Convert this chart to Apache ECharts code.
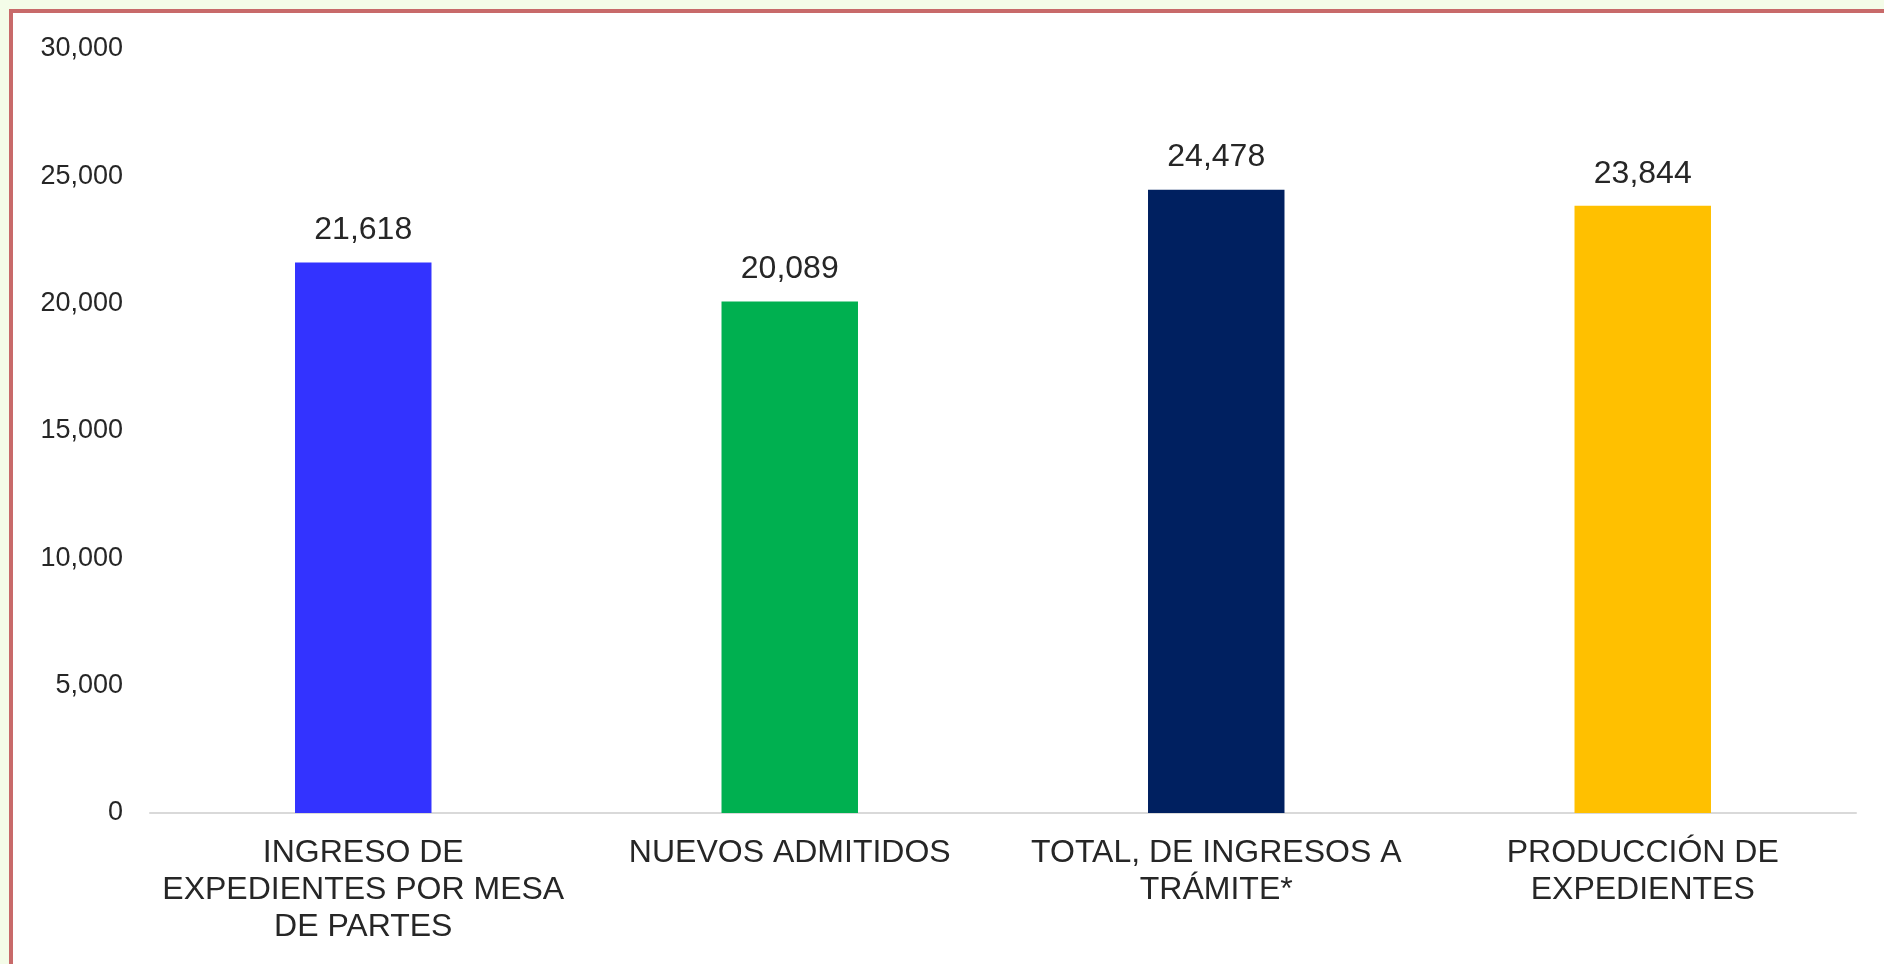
<!DOCTYPE html>
<html>
<head>
<meta charset="utf-8">
<script src="https://cdn.jsdelivr.net/npm/echarts@6/dist/echarts.min.js"></script>
<style>
  html, body { margin: 0; padding: 0; background: #f4fce8; }
  #frame {
    position: absolute; left: 9px; top: 9px; width: 1880px; height: 952px;
    background: #ffffff; border-top: 4px solid #c86a6a; border-left: 4px solid #c86a6a;
    border-bottom: 1px solid #e2e2e2;
  }
  #chart { position: absolute; left: 0; top: 0; width: 1884px; height: 964px; }
</style>
</head>
<body>
<div id="frame"></div>
<div id="chart"></div>
<script>
// categorias y valores
const categories = [
  'INGRESO DE\nEXPEDIENTES POR MESA\nDE PARTES',
  'NUEVOS ADMITIDOS',
  'TOTAL, DE INGRESOS A\nTRÁMITE*',
  'PRODUCCIÓN DE\nEXPEDIENTES'
]
const values = [21618, 20089, 24478, 23844]
const barColors = ['#3333ff', '#00b050', '#002060', '#ffc000']

const myChart = echarts.init(document.getElementById('chart'))
const option = {
  animation: false,
  textStyle: { fontFamily: '"Liberation Sans", Arial, sans-serif' },
  grid: { left: 150, right: 28, top: 49, bottom: 151 },
  xAxis: {
    type: 'category',
    data: categories,
    axisTick: { show: false },
    axisLine: { lineStyle: { color: '#d9d9d9', width: 2 } },
    axisLabel: {
      interval: 0,
      margin: 22,
      color: '#262626',
      fontSize: 32,
      lineHeight: 37
    }
  },
  yAxis: {
    type: 'value',
    min: 0,
    max: 30000,
    interval: 5000,
    splitLine: { show: false },
    axisLine: { show: false },
    axisLabel: {
      margin: 27,
      color: '#262626',
      fontSize: 27,
      formatter: v => v.toLocaleString('en-US')
    }
  },
  series: [
    {
      type: 'bar',
      barWidth: '32%',
      data: values.map((v, i) => ({ value: v, itemStyle: { color: barColors[i] } })),
      label: {
        show: true,
        position: 'top',
        distance: 16,
        color: '#262626',
        fontSize: 32,
        formatter: p => p.value.toLocaleString('en-US')
      }
    }
  ]
}
myChart.setOption(option)
</script>
</body>
</html>
